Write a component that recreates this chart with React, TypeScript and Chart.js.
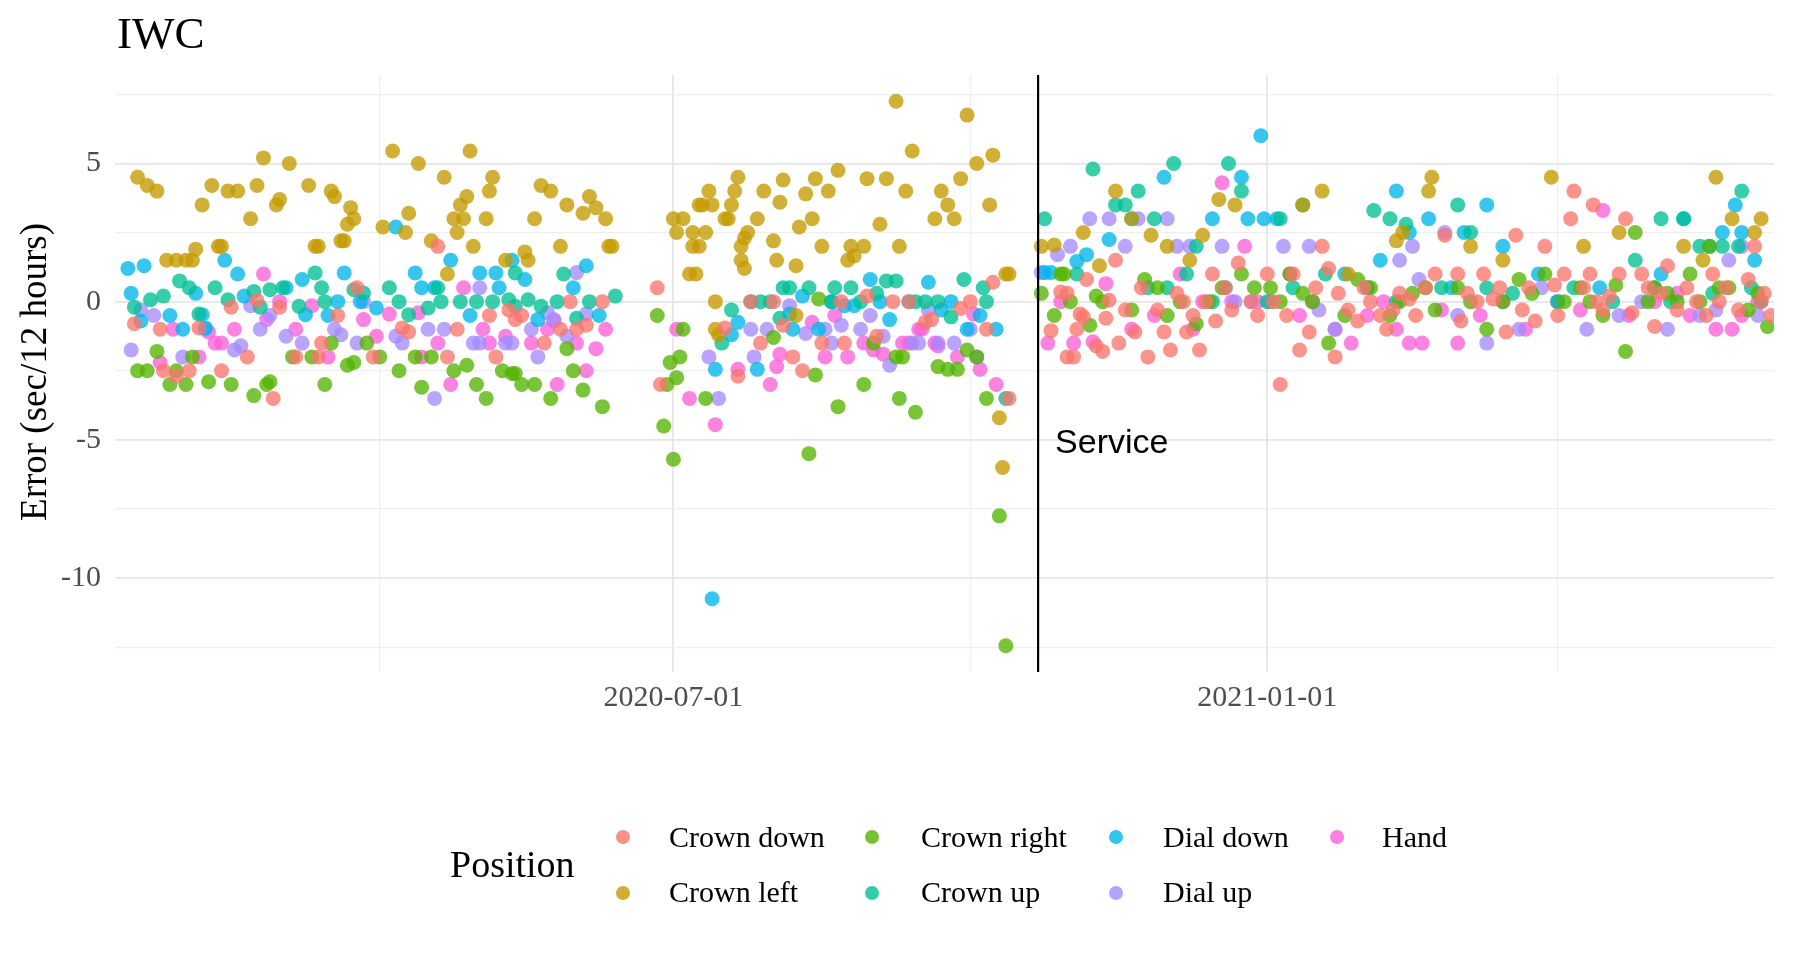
import React, { useEffect, useRef } from "react";
import { Chart, registerables } from "chart.js";
Chart.register(...registerables);

type Pt = [string, number];

const positionNames = ["Crown down", "Crown left", "Crown right", "Crown up", "Dial down", "Dial up", "Hand"];
const positionColors = ["#F8766D", "#C49A00", "#53B400", "#00C094", "#00B6EB", "#A58AFF", "#FB61D7"];

const crownDown: Pt[] = [
  ["2020-01-16", -0.8], ["2020-01-24", -1.0], ["2020-01-25", -2.5], ["2020-01-29", -2.7], ["2020-02-02", -2.5],
  ["2020-02-05", -0.95], ["2020-02-12", -2.5], ["2020-02-15", -0.2], ["2020-02-20", -2.0], ["2020-02-23", 0.05],
  ["2020-02-28", -3.5], ["2020-03-01", -0.2], ["2020-03-06", -2.0], ["2020-03-13", -2.0], ["2020-03-14", -1.5],
  ["2020-03-19", -0.5], ["2020-03-25", 0.5], ["2020-03-30", -2.0], ["2020-04-08", -0.95], ["2020-04-10", -1.1],
  ["2020-04-19", 2.0], ["2020-04-22", -2.0], ["2020-04-25", -1.0], ["2020-05-05", -0.5], ["2020-05-07", -2.0],
  ["2020-05-11", -0.3], ["2020-05-13", -0.65], ["2020-05-15", -0.5], ["2020-05-22", -1.5], ["2020-05-27", -1.0],
  ["2020-05-30", 0], ["2020-06-01", -1.0], ["2020-06-04", -0.85], ["2020-06-09", 0], ["2020-06-26", 0.5],
  ["2020-06-27", -3.0], ["2020-07-17", -0.95], ["2020-07-21", -2.7], ["2020-07-25", 0], ["2020-07-28", -1.5],
  ["2020-08-01", 0], ["2020-08-04", -0.85], ["2020-08-07", -2.0], ["2020-08-10", -2.5], ["2020-08-16", -1.5],
  ["2020-08-22", 0], ["2020-08-23", -1.5], ["2020-08-30", 0.2], ["2020-09-02", -1.25], ["2020-09-07", 0],
  ["2020-09-12", 0], ["2020-09-17", -0.75], ["2020-09-19", -0.65], ["2020-09-28", -0.25], ["2020-10-01", 0],
  ["2020-10-06", -1.0], ["2020-10-08", 0.7], ["2020-10-13", -3.5],
  ["2020-10-26", -1.05], ["2020-10-29", 0.35], ["2020-10-31", 0.3], ["2020-10-31", -2.0], ["2020-11-02", -2.0],
  ["2020-11-03", -1.0], ["2020-11-04", -0.45], ["2020-11-05", -0.55], ["2020-11-06", 0.8], ["2020-11-09", -1.6],
  ["2020-11-11", -1.8], ["2020-11-12", -0.6], ["2020-11-13", 0.05], ["2020-11-15", 1.5], ["2020-11-16", -1.5],
  ["2020-11-18", -0.3], ["2020-11-21", -1.1], ["2020-11-23", 0.5], ["2020-11-25", -2.0], ["2020-11-28", -0.3],
  ["2020-11-30", -1.1], ["2020-12-02", -1.75], ["2020-12-04", 0.3], ["2020-12-06", 0], ["2020-12-07", -1.1],
  ["2020-12-09", -0.5], ["2020-12-11", -1.75], ["2020-12-13", 0], ["2020-12-15", 1.0], ["2020-12-16", -0.7],
  ["2020-12-19", 0.5], ["2020-12-21", -0.3], ["2020-12-23", 1.4], ["2020-12-27", 0], ["2020-12-29", -0.5],
  ["2021-01-01", 1.0], ["2021-01-03", 0], ["2021-01-05", -3.0], ["2021-01-07", -0.5], ["2021-01-09", 1.0],
  ["2021-01-11", -1.75], ["2021-01-14", -1.1], ["2021-01-16", 0.5], ["2021-01-18", 2.0], ["2021-01-20", 1.2],
  ["2021-01-22", -2.0], ["2021-01-23", 0.3], ["2021-01-26", -0.3], ["2021-01-29", -0.7], ["2021-01-31", 0.5],
  ["2021-02-02", 0], ["2021-02-05", -0.5], ["2021-02-07", -1.0], ["2021-02-09", -0.3], ["2021-02-11", 0.3],
  ["2021-02-14", 0.1], ["2021-02-16", -0.5], ["2021-02-19", 0.5], ["2021-02-22", 1.0], ["2021-02-25", 2.4],
  ["2021-03-01", 1.0], ["2021-03-02", -0.7], ["2021-03-04", 0.3], ["2021-03-07", 0], ["2021-03-09", 1.0],
  ["2021-03-12", 0.1], ["2021-03-14", 0.5], ["2021-03-16", -1.1], ["2021-03-19", 2.4], ["2021-03-21", -0.3],
  ["2021-03-23", 0.5], ["2021-03-25", -0.7], ["2021-03-28", 2.0], ["2021-03-31", 0.6], ["2021-04-01", -0.5],
  ["2021-04-03", 1.0], ["2021-04-05", 3.0], ["2021-04-06", 4.0], ["2021-04-09", 0.5], ["2021-04-11", 1.0],
  ["2021-04-12", 3.5], ["2021-04-13", 0], ["2021-04-15", -0.3], ["2021-04-17", 0.2], ["2021-04-20", 1.0],
  ["2021-04-22", 3.0], ["2021-04-24", -0.4], ["2021-04-27", 1.0], ["2021-04-29", 0.5], ["2021-05-01", -0.9],
  ["2021-05-03", 0.3], ["2021-05-05", 1.3], ["2021-05-08", -0.3], ["2021-05-11", 0.5], ["2021-05-14", 0],
  ["2021-05-17", -0.5], ["2021-05-19", 1.0], ["2021-05-21", 0], ["2021-05-23", 0.5], ["2021-05-27", -0.3],
  ["2021-05-30", 0.8], ["2021-06-01", 2.0], ["2021-06-03", 0], ["2021-06-04", 0.3], ["2021-06-06", -0.5],
];

const crownLeft: Pt[] = [
  ["2020-01-17", 4.5], ["2020-01-20", 4.2], ["2020-01-23", 4.0], ["2020-01-26", 1.5], ["2020-01-29", 1.5],
  ["2020-02-01", 1.5], ["2020-02-03", 1.5], ["2020-02-04", 1.9], ["2020-02-06", 3.5], ["2020-02-09", 4.2],
  ["2020-02-11", 2.0], ["2020-02-12", 2.0], ["2020-02-14", 4.0], ["2020-02-17", 4.0], ["2020-02-21", 3.0],
  ["2020-02-23", 4.2], ["2020-02-25", 5.2], ["2020-02-29", 3.5], ["2020-03-01", 3.7], ["2020-03-04", 5.0],
  ["2020-03-10", 4.2], ["2020-03-12", 2.0], ["2020-03-13", 2.0], ["2020-03-17", 4.0], ["2020-03-18", 3.8],
  ["2020-03-20", 2.2], ["2020-03-21", 2.2], ["2020-03-22", 2.8], ["2020-03-23", 3.4], ["2020-03-24", 3.0],
  ["2020-04-02", 2.7], ["2020-04-05", 5.45], ["2020-04-09", 2.5], ["2020-04-10", 3.2], ["2020-04-13", 5.0],
  ["2020-04-17", 2.2], ["2020-04-21", 4.5], ["2020-04-22", 1.0], ["2020-04-24", 3.0], ["2020-04-25", 2.5],
  ["2020-04-26", 3.5], ["2020-04-27", 3.0], ["2020-04-28", 3.8], ["2020-04-29", 5.45], ["2020-04-30", 2.0],
  ["2020-05-04", 3.0], ["2020-05-05", 4.0], ["2020-05-06", 4.5], ["2020-05-10", 1.5], ["2020-05-16", 1.8],
  ["2020-05-17", 1.5], ["2020-05-19", 3.0], ["2020-05-21", 4.2], ["2020-05-24", 4.0], ["2020-05-27", 2.0],
  ["2020-05-29", 3.5], ["2020-06-03", 3.2], ["2020-06-05", 3.8], ["2020-06-07", 3.4], ["2020-06-10", 3.0],
  ["2020-06-11", 2.0], ["2020-06-12", 2.0],
  ["2020-07-01", 3.0], ["2020-07-02", 2.5], ["2020-07-04", 3.0], ["2020-07-06", 1.0], ["2020-07-07", 2.5],
  ["2020-07-07", 2.0], ["2020-07-08", 1.0], ["2020-07-09", 2.0], ["2020-07-09", 3.5], ["2020-07-10", 3.5],
  ["2020-07-11", 2.5], ["2020-07-12", 4.0], ["2020-07-13", 3.5], ["2020-07-14", 0], ["2020-07-14", -1.0],
  ["2020-07-15", -1.2], ["2020-07-17", 3.0], ["2020-07-18", 3.0], ["2020-07-19", 3.5], ["2020-07-20", 4.0],
  ["2020-07-21", 4.5], ["2020-07-22", 2.0], ["2020-07-22", 1.5], ["2020-07-23", 2.3], ["2020-07-23", 1.2],
  ["2020-07-24", 2.5], ["2020-07-27", 3.0], ["2020-07-29", 4.0], ["2020-08-01", 2.2], ["2020-08-02", 1.5],
  ["2020-08-03", 3.6], ["2020-08-04", 4.4], ["2020-08-08", 1.3], ["2020-08-08", -0.5], ["2020-08-09", 2.7],
  ["2020-08-11", 3.9], ["2020-08-13", 3.0], ["2020-08-14", 4.45], ["2020-08-16", 2.0], ["2020-08-18", 4.0],
  ["2020-08-21", 4.75], ["2020-08-24", 1.5], ["2020-08-25", 2.0], ["2020-08-26", 1.65], ["2020-08-29", 2.0],
  ["2020-08-30", 4.45], ["2020-09-03", 2.8], ["2020-09-05", 4.45], ["2020-09-08", 7.25], ["2020-09-09", 2.0],
  ["2020-09-11", 4.0], ["2020-09-13", 5.45], ["2020-09-20", 3.0], ["2020-09-22", 4.0], ["2020-09-24", 3.5],
  ["2020-09-26", 3.0], ["2020-09-28", 4.45], ["2020-09-30", 6.75], ["2020-10-03", 5.0], ["2020-10-07", 3.5],
  ["2020-10-08", 5.3], ["2020-10-10", -4.2], ["2020-10-11", -6.0], ["2020-10-12", 1.0], ["2020-10-13", 1.0],
  ["2020-10-23", 2.0], ["2020-10-27", 2.05], ["2020-11-05", 2.5], ["2020-11-10", 1.3], ["2020-11-15", 4.0],
  ["2020-11-20", 3.0], ["2020-11-26", 2.4], ["2020-12-01", 2.0], ["2020-12-08", 1.5], ["2020-12-12", 2.4],
  ["2020-12-17", 3.7], ["2020-12-22", 3.5], ["2021-01-12", 3.5], ["2021-01-18", 4.0], ["2021-01-26", 1.0],
  ["2021-02-10", 2.2], ["2021-02-12", 2.5], ["2021-02-20", 4.0], ["2021-02-21", 4.5], ["2021-03-05", 2.0],
  ["2021-03-15", 1.5], ["2021-03-30", 4.5], ["2021-04-09", 2.0], ["2021-04-20", 2.5], ["2021-05-10", 2.0],
  ["2021-05-16", 1.5], ["2021-05-20", 4.5], ["2021-05-25", 3.0], ["2021-06-01", 2.5], ["2021-06-03", 3.0],
];

const crownRight: Pt[] = [
  ["2020-01-17", -2.5], ["2020-01-20", -2.5], ["2020-01-23", -1.8], ["2020-01-27", -3.0], ["2020-01-29", -2.5],
  ["2020-02-01", -3.0], ["2020-02-03", -2.0], ["2020-02-08", -2.9], ["2020-02-15", -3.0], ["2020-02-22", -3.4],
  ["2020-02-26", -3.0], ["2020-02-27", -2.9], ["2020-03-05", -2.0], ["2020-03-11", -2.0], ["2020-03-15", -3.0],
  ["2020-03-17", -1.5], ["2020-03-22", -2.3], ["2020-03-24", -2.2], ["2020-03-28", -1.5], ["2020-04-01", -2.0],
  ["2020-04-07", -2.5], ["2020-04-12", -2.0], ["2020-04-14", -3.1], ["2020-04-17", -2.0], ["2020-04-24", -2.5],
  ["2020-04-28", -2.3], ["2020-05-01", -3.0], ["2020-05-04", -3.5], ["2020-05-09", -2.5], ["2020-05-12", -2.6],
  ["2020-05-13", -2.6], ["2020-05-15", -3.0], ["2020-05-19", -3.0], ["2020-05-24", -3.5], ["2020-05-29", -1.7],
  ["2020-05-31", -2.5], ["2020-06-03", -3.2], ["2020-06-09", -3.8], ["2020-06-26", -0.5], ["2020-06-28", -4.5],
  ["2020-06-29", -3.0], ["2020-06-30", -2.2], ["2020-07-01", -5.7], ["2020-07-02", -2.75], ["2020-07-03", -2.0],
  ["2020-07-04", -1.0], ["2020-07-11", -3.5], ["2020-08-01", -1.3], ["2020-08-12", -5.5], ["2020-08-14", -2.65],
  ["2020-08-15", 0.1], ["2020-08-21", -3.8], ["2020-08-29", -3.0], ["2020-09-01", -1.5], ["2020-09-08", -2.0],
  ["2020-09-09", -3.5], ["2020-09-10", -2.0], ["2020-09-14", -4.0], ["2020-09-21", -2.35], ["2020-09-24", -2.45],
  ["2020-09-27", -2.45], ["2020-09-30", -1.75], ["2020-10-03", -2.0], ["2020-10-06", -3.5], ["2020-10-10", -7.75],
  ["2020-10-12", -12.45],
  ["2020-10-23", 0.3], ["2020-10-27", -0.5], ["2020-10-29", 1.0], ["2020-10-30", 1.0], ["2020-11-01", 0],
  ["2020-11-07", -0.85], ["2020-11-09", 0.2], ["2020-11-11", 0],
  ["2020-11-20", -0.3], ["2020-11-24", 0.8], ["2020-11-28", 0.5], ["2020-12-01", -0.5], ["2020-12-05", 0],
  ["2020-12-10", -0.8], ["2020-12-14", 0], ["2020-12-18", 0.5], ["2020-12-24", 1.0], ["2020-12-28", 0.5],
  ["2021-01-02", 0.5], ["2021-01-05", 0], ["2021-01-08", 1.0], ["2021-01-12", 0.3], ["2021-01-15", 0],
  ["2021-01-20", -1.5], ["2021-01-25", -0.5], ["2021-01-29", 0.8], ["2021-02-02", 0.5], ["2021-02-08", -0.5],
  ["2021-02-11", 0], ["2021-02-15", 0.3], ["2021-02-19", 0.5], ["2021-02-22", -0.3], ["2021-03-01", 0.5],
  ["2021-03-05", 0], ["2021-03-10", -1.0], ["2021-03-15", 0], ["2021-03-20", 0.8], ["2021-03-24", 0.3],
  ["2021-03-28", 1.0], ["2021-04-03", 0], ["2021-04-08", 0.5], ["2021-04-11", 0], ["2021-04-15", -0.5],
  ["2021-04-19", 0.6], ["2021-04-22", -1.8], ["2021-04-25", 2.5], ["2021-04-29", 0], ["2021-05-01", 0.5],
  ["2021-05-05", 0.3], ["2021-05-08", 0], ["2021-05-12", 1.0], ["2021-05-15", 0], ["2021-05-18", 2.0],
  ["2021-05-21", 0.5], ["2021-05-24", 0.5], ["2021-05-30", -0.3], ["2021-06-02", 0.3], ["2021-06-05", -0.9],
];

const crownUp: Pt[] = [
  ["2020-01-16", -0.2], ["2020-01-21", 0.07], ["2020-01-25", 0.2], ["2020-01-30", 0.75], ["2020-02-02", 0.5],
  ["2020-02-05", -0.45], ["2020-02-10", 0.5], ["2020-02-14", 0.07], ["2020-02-22", 0.37], ["2020-02-24", -0.2],
  ["2020-02-27", 0.43], ["2020-03-02", 0.5], ["2020-03-07", -0.17], ["2020-03-12", 1.04], ["2020-03-14", 0.5],
  ["2020-03-15", 0], ["2020-03-24", 0.43], ["2020-03-27", 0.31], ["2020-04-04", 0.5], ["2020-04-07", 0],
  ["2020-04-10", -0.47], ["2020-04-16", -0.23], ["2020-04-19", 0.5], ["2020-04-20", 0], ["2020-04-26", 0],
  ["2020-05-01", 0], ["2020-05-06", 0], ["2020-05-11", 0.07], ["2020-05-13", 1.04], ["2020-05-13", -0.17],
  ["2020-05-17", 0.07], ["2020-05-21", -0.17], ["2020-05-26", 0], ["2020-05-28", 1.0], ["2020-06-01", -0.6],
  ["2020-06-05", 0], ["2020-06-13", 0.2], ["2020-07-16", -1.5], ["2020-07-19", -0.3], ["2020-07-25", 0],
  ["2020-07-28", 0], ["2020-07-31", 0], ["2020-08-03", -0.6], ["2020-08-04", 0.5], ["2020-08-06", 0.5],
  ["2020-08-12", 0.5], ["2020-08-19", 0], ["2020-08-20", 0.5], ["2020-08-25", 0.5], ["2020-08-28", 0],
  ["2020-09-02", 0.3], ["2020-09-05", 0.75], ["2020-09-08", 0.75], ["2020-09-14", 0], ["2020-09-17", 0],
  ["2020-09-21", 0], ["2020-09-25", -0.55], ["2020-09-29", 0.8], ["2020-10-05", 0.5], ["2020-10-06", 0],
  ["2020-10-12", -3.5],
  ["2020-10-24", 3.0], ["2020-11-03", 1.0], ["2020-11-08", 4.8], ["2020-11-15", 3.5],
  ["2020-11-18", 3.5], ["2020-11-22", 4.0], ["2020-11-25", 0.5], ["2020-11-27", 3.0], ["2020-12-01", 0.5],
  ["2020-12-03", 5.0], ["2020-12-07", 1.0], ["2020-12-10", 2.0], ["2020-12-15", 0], ["2020-12-20", 5.0],
  ["2020-12-24", 4.0], ["2021-01-01", 0], ["2021-01-05", 3.0], ["2021-01-09", 0.5], ["2021-01-12", 3.5],
  ["2021-01-19", 1.0], ["2021-02-01", 0.5], ["2021-02-03", 3.3], ["2021-02-08", 3.0], ["2021-02-10", 0],
  ["2021-02-13", 2.8], ["2021-02-24", 0.5], ["2021-03-01", 3.5], ["2021-03-05", 2.5], ["2021-03-10", 0.5],
  ["2021-03-18", 0.3], ["2021-04-01", 0], ["2021-04-06", 0.5], ["2021-04-18", 0], ["2021-04-25", 1.5],
  ["2021-05-01", 0.5], ["2021-05-03", 3.0], ["2021-05-06", 0], ["2021-05-10", 3.0], ["2021-05-15", 2.0],
  ["2021-05-19", 0.3], ["2021-05-22", 2.0], ["2021-05-27", 2.0], ["2021-05-28", 4.0], ["2021-05-31", 0.5],
  ["2021-06-03", 0],
];

const dialDown: Pt[] = [
  ["2020-01-14", 1.2], ["2020-01-15", 0.3], ["2020-01-18", -0.7], ["2020-01-19", 1.3], ["2020-01-27", -0.5],
  ["2020-01-31", -1.0], ["2020-02-04", 0.3], ["2020-02-06", -0.47], ["2020-02-07", -0.95], ["2020-02-13", 1.5],
  ["2020-02-17", 1.0], ["2020-02-19", 0.2], ["2020-03-03", 0.5], ["2020-03-08", 0.8], ["2020-03-09", -0.47],
  ["2020-03-16", -0.5], ["2020-03-19", 0], ["2020-03-21", 1.04], ["2020-03-26", 0], ["2020-03-31", -0.23],
  ["2020-04-06", 2.7], ["2020-04-12", 1.04], ["2020-04-14", 0.5], ["2020-04-18", 0.5], ["2020-04-23", 1.5],
  ["2020-04-29", -0.5], ["2020-05-02", 1.04], ["2020-05-07", 1.04], ["2020-05-08", 0.5], ["2020-05-12", 1.5],
  ["2020-05-16", 0.8], ["2020-05-20", -0.65], ["2020-05-31", 0.5], ["2020-06-04", 1.3], ["2020-06-08", -0.5],
  ["2020-07-13", -10.75], ["2020-07-14", -2.45], ["2020-07-19", -1.2], ["2020-07-21", -0.75], ["2020-07-27", -2.45],
  ["2020-08-06", -0.45], ["2020-08-07", -1.0], ["2020-08-10", 0.2], ["2020-08-15", -1.0], ["2020-08-19", 0],
  ["2020-08-23", -0.15], ["2020-08-26", -0.15], ["2020-08-31", 0.8], ["2020-09-03", 0], ["2020-09-06", -0.65],
  ["2020-09-12", 0], ["2020-09-18", 0.7], ["2020-09-22", -0.3], ["2020-09-25", 0], ["2020-09-30", -1.0],
  ["2020-10-04", -0.5], ["2020-10-09", -1.0],
  ["2020-10-24", 1.05], ["2020-10-26", 1.05], ["2020-11-03", 1.45], ["2020-11-06", 1.7], ["2020-11-13", 2.25],
  ["2020-11-20", 3.0], ["2020-11-30", 4.5], ["2020-12-15", 3.0], ["2020-12-19", 0.5], ["2020-12-24", 4.5],
  ["2020-12-26", 3.0], ["2020-12-30", 6.0], ["2020-12-31", 3.0], ["2021-01-04", 3.0], ["2021-01-25", 1.0],
  ["2021-02-05", 1.5], ["2021-02-10", 4.0], ["2021-02-14", 2.5], ["2021-02-20", 3.0], ["2021-02-27", 0.5],
  ["2021-03-03", 2.5], ["2021-03-10", 3.5], ["2021-03-15", 2.0], ["2021-03-26", 1.0], ["2021-04-14", 0.5],
  ["2021-05-03", 1.0], ["2021-05-10", 3.0], ["2021-05-18", 2.0], ["2021-05-22", 2.5], ["2021-05-26", 3.5],
  ["2021-05-28", 2.5], ["2021-06-01", 1.5],
];

const dialUp: Pt[] = [
  ["2020-01-15", -1.75], ["2020-01-18", -0.3], ["2020-01-22", -0.5], ["2020-01-31", -2.0], ["2020-02-07", -1.0],
  ["2020-02-16", -1.75], ["2020-02-18", -1.6], ["2020-02-21", -0.15], ["2020-02-24", -1.0], ["2020-02-27", -0.5],
  ["2020-03-03", -1.25], ["2020-03-08", -1.5], ["2020-03-18", -1.0], ["2020-03-20", -1.2], ["2020-03-25", -1.5],
  ["2020-03-27", 0], ["2020-04-06", -1.25], ["2020-04-08", -1.5], ["2020-04-16", -1.0], ["2020-04-18", -3.5],
  ["2020-04-21", -1.0], ["2020-04-30", -1.5], ["2020-05-02", 0.5], ["2020-05-02", -1.5], ["2020-05-10", -1.5],
  ["2020-05-12", -1.5], ["2020-05-18", -1.0], ["2020-05-20", -2.0], ["2020-05-23", -0.4], ["2020-05-25", -0.65],
  ["2020-05-29", -1.25], ["2020-06-01", 1.05], ["2020-06-04", -0.45], ["2020-07-12", -2.0], ["2020-07-15", -3.5],
  ["2020-07-25", -1.0], ["2020-07-26", -2.0], ["2020-07-30", -1.0], ["2020-08-06", -0.15], ["2020-08-11", -1.15],
  ["2020-08-17", -1.0], ["2020-08-19", -1.5], ["2020-08-22", -0.85], ["2020-08-28", -1.0], ["2020-08-31", -0.5],
  ["2020-09-04", -1.25], ["2020-09-06", -2.3], ["2020-09-13", -1.5], ["2020-09-15", -1.5], ["2020-09-18", -0.3],
  ["2020-09-21", -1.5], ["2020-09-26", -1.5], ["2020-10-01", -1.0], ["2020-10-03", -2.0],
  ["2020-10-23", 1.05], ["2020-10-28", 1.7], ["2020-11-01", 2.0], ["2020-11-07", 3.0], ["2020-11-13", 3.0],
  ["2020-11-18", 2.0], ["2020-11-22", 3.0], ["2020-12-01", 3.0], ["2020-12-04", 2.0], ["2020-12-08", 2.0],
  ["2020-12-18", 2.0], ["2020-12-22", 0], ["2020-12-27", 0], ["2021-01-06", 2.0], ["2021-01-14", 2.0],
  ["2021-01-17", -0.3], ["2021-01-22", -1.0], ["2021-02-01", 0.5], ["2021-02-11", 1.5], ["2021-02-15", 2.0],
  ["2021-02-17", 0.8], ["2021-02-25", 2.5], ["2021-03-01", -0.5], ["2021-03-10", -1.5], ["2021-03-20", -1.0],
  ["2021-03-27", 0.5], ["2021-04-01", 0], ["2021-04-10", -1.0], ["2021-04-20", -0.5], ["2021-04-27", 0],
  ["2021-05-05", -1.0], ["2021-05-15", -0.5], ["2021-05-20", -0.3], ["2021-05-24", 1.5], ["2021-05-28", 2.0],
  ["2021-06-02", -0.5],
];

const hand: Pt[] = [
  ["2020-01-24", -2.2], ["2020-01-28", -1.0], ["2020-02-05", -2.0], ["2020-02-08", -1.1], ["2020-02-10", -1.5],
  ["2020-02-12", -1.5], ["2020-02-16", -1.0], ["2020-02-25", 1.0], ["2020-02-26", -0.65], ["2020-03-01", 0],
  ["2020-03-06", -1.0], ["2020-03-11", -0.15], ["2020-03-16", -2.0], ["2020-03-27", -0.65], ["2020-03-31", -1.25],
  ["2020-04-04", -0.45], ["2020-04-13", -0.4], ["2020-04-14", -2.0], ["2020-04-19", -1.5], ["2020-04-23", -3.0],
  ["2020-04-27", 0.5], ["2020-05-03", -1.0], ["2020-05-05", -1.5], ["2020-05-10", -1.25], ["2020-05-18", -1.5],
  ["2020-05-23", -1.0], ["2020-05-25", -0.7], ["2020-05-26", -3.0], ["2020-06-01", -1.5], ["2020-06-04", -2.5],
  ["2020-06-07", -1.7], ["2020-06-10", -1.0], ["2020-07-02", -1.0], ["2020-07-06", -3.5], ["2020-07-14", -4.45],
  ["2020-07-21", -2.45], ["2020-07-31", -3.0], ["2020-08-02", -2.35], ["2020-08-03", -1.9], ["2020-08-13", -0.75],
  ["2020-08-17", -2.0], ["2020-08-20", -0.5], ["2020-08-24", -2.0], ["2020-08-29", -1.5], ["2020-09-01", -1.75],
  ["2020-09-04", -1.9], ["2020-09-10", -1.5], ["2020-09-12", -1.5], ["2020-09-15", -1.0], ["2020-09-16", -1.0],
  ["2020-09-20", -1.5], ["2020-09-21", -1.6], ["2020-09-27", -2.0], ["2020-10-02", -0.45], ["2020-10-04", -2.45],
  ["2020-10-09", -3.0],
  ["2020-10-25", -1.5], ["2020-10-29", 0], ["2020-11-02", -1.5], ["2020-11-08", -1.45], ["2020-11-12", 0.65],
  ["2020-11-20", -1.0], ["2020-11-27", -0.5], ["2020-12-05", 1.0], ["2020-12-09", -1.0], ["2020-12-12", 0],
  ["2020-12-18", 4.3], ["2020-12-21", 0], ["2020-12-25", 2.0], ["2020-12-29", 0], ["2021-01-02", 0],
  ["2021-01-08", 1.0], ["2021-01-11", -0.5], ["2021-01-15", 0], ["2021-01-22", -1.0], ["2021-01-27", -1.5],
  ["2021-02-01", -0.5], ["2021-02-06", 0], ["2021-02-10", -1.0], ["2021-02-14", -1.5], ["2021-02-18", -1.5],
  ["2021-02-24", -0.3], ["2021-03-01", -1.5], ["2021-03-08", -0.5], ["2021-03-15", 0], ["2021-03-22", -1.0],
  ["2021-04-01", 0], ["2021-04-08", -0.3], ["2021-04-15", 3.3], ["2021-04-23", -0.5], ["2021-05-01", 0],
  ["2021-05-08", 0.3], ["2021-05-12", -0.5], ["2021-05-20", -1.0], ["2021-05-25", -1.0], ["2021-05-28", -0.5],
  ["2021-06-02", 0],
];

const seriesData: Pt[][] = [crownDown, crownLeft, crownRight, crownUp, dialDown, dialUp, hand];

const yGridValues = [-12.5, -10, -7.5, -5, -2.5, 0, 2.5, 5, 7.5];
const xGridDates = ["2020-04-01", "2020-07-01", "2020-10-01", "2021-01-01", "2021-04-01"];
const xLabelDates = ["2020-07-01", "2021-01-01"];
const serviceDate = "2020-10-22";
const serviceLabel = "Service";
const xRange = ["2020-01-10", "2021-06-07"];
const yRange = [-13.4, 8.2];
const titleText = "IWC";
const yTitleText = "Error (sec/12 hours)";
const legendTitle = "Position";

const ms = (d: string) => Date.parse(d + "T00:00:00Z");

function rgba(hex: string, a: number) {
  const n = parseInt(hex.slice(1), 16);
  return `rgba(${(n >> 16) & 255},${(n >> 8) & 255},${n & 255},${a})`;
}

const SERIF = '"Liberation Serif", "Times New Roman", serif';
const SANS = '"Liberation Sans", Arial, sans-serif';

const overlayPlugin = {
  id: "overlay",
  afterDatasetsDraw(chart: any) {
    const { ctx, chartArea, scales } = chart;
    const sx = scales.x.getPixelForValue(ms(serviceDate));
    ctx.save();
    ctx.strokeStyle = "#000";
    ctx.lineWidth = 2.2;
    ctx.beginPath();
    ctx.moveTo(sx, chartArea.top);
    ctx.lineTo(sx, chartArea.bottom);
    ctx.stroke();
    ctx.fillStyle = "#000";
    ctx.font = `34px ${SANS}`;
    ctx.textAlign = "left";
    ctx.textBaseline = "alphabetic";
    ctx.fillText(serviceLabel, sx + 17, scales.y.getPixelForValue(-5) + 13);
    ctx.restore();
  },
  afterDraw(chart: any) {
    const { ctx } = chart;
    ctx.save();
    ctx.fillStyle = "#000";
    ctx.textAlign = "left";
    ctx.textBaseline = "alphabetic";
    ctx.font = `45px ${SERIF}`;
    ctx.fillText(titleText, 117, 48);

    ctx.save();
    ctx.translate(46, 372);
    ctx.rotate(-Math.PI / 2);
    ctx.textAlign = "center";
    ctx.font = `37px ${SERIF}`;
    ctx.fillText(yTitleText, 0, 0);
    ctx.restore();

    ctx.font = `38px ${SERIF}`;
    ctx.fillText(legendTitle, 450, 877);
    const markerX = [623, 872, 1116, 1337];
    const labelX = [669, 921, 1163, 1382];
    const rowY = [837, 893];
    const rowBase = [847, 902];
    ctx.font = `30px ${SERIF}`;
    positionNames.forEach((name, i) => {
      const col = Math.floor(i / 2);
      const row = i % 2;
      ctx.fillStyle = rgba(positionColors[i], 0.8);
      ctx.beginPath();
      ctx.arc(markerX[col], rowY[row], 7, 0, Math.PI * 2);
      ctx.fill();
      ctx.fillStyle = "#000";
      ctx.fillText(name, labelX[col], rowBase[row]);
    });
    ctx.restore();
  },
};

export default function App() {
  const ref = useRef<HTMLCanvasElement | null>(null);
  useEffect(() => {
    document.body.style.margin = "0";
    const canvas = ref.current!;
    const datasets = seriesData.map((s, i) => ({
      label: positionNames[i],
      data: s.map(([d, v]) => ({ x: ms(d), y: v })),
      backgroundColor: rgba(positionColors[i], 0.78),
      borderWidth: 0,
      pointRadius: 7.5,
      pointHoverRadius: 7.5,
    }));
    const xMajor = new Set(xLabelDates.map(ms));
    const chart = new Chart(canvas, {
      type: "scatter",
      data: { datasets },
      options: {
        animation: false,
        responsive: false,
        events: [],
        layout: { padding: { top: 75, right: 26, bottom: 0, left: 0 } },
        plugins: { legend: { display: false }, tooltip: { enabled: false }, title: { display: false } },
        scales: {
          x: {
            type: "linear",
            min: ms(xRange[0]),
            max: ms(xRange[1]),
            border: { display: false },
            afterFit: (s: any) => { s.height = 282; },
            afterBuildTicks: (s: any) => { s.ticks = xGridDates.map((d) => ({ value: ms(d) })); },
            grid: {
              drawTicks: false,
              color: (c: any) => (xMajor.has(c.tick?.value) ? "#E6E6E6" : "#EFEFEF"),
              lineWidth: (c: any) => (xMajor.has(c.tick?.value) ? 1.8 : 1.2),
            },
            ticks: {
              padding: 8,
              maxRotation: 0,
              autoSkip: false,
              color: "#4D4D4D",
              font: { family: SERIF, size: 30 },
              callback: (v: any) => {
                const s = new Date(Number(v)).toISOString().slice(0, 10);
                return xLabelDates.includes(s) ? s : "";
              },
            },
          },
          y: {
            min: yRange[0],
            max: yRange[1],
            border: { display: false },
            afterFit: (s: any) => { s.width = 115; },
            afterBuildTicks: (s: any) => { s.ticks = yGridValues.map((v) => ({ value: v })); },
            grid: {
              drawTicks: false,
              color: (c: any) => (c.tick && c.tick.value % 5 === 0 ? "#E6E6E6" : "#EFEFEF"),
              lineWidth: (c: any) => (c.tick && c.tick.value % 5 === 0 ? 1.8 : 1.2),
            },
            ticks: {
              padding: 14,
              autoSkip: false,
              color: "#4D4D4D",
              font: { family: SERIF, size: 30 },
              callback: (v: any) => (Number(v) % 5 === 0 ? String(v) : ""),
            },
          },
        },
      },
      plugins: [overlayPlugin],
    });
    return () => chart.destroy();
  }, []);
  return <canvas ref={ref} width={1800} height={954} style={{ display: "block" }} />;
}
